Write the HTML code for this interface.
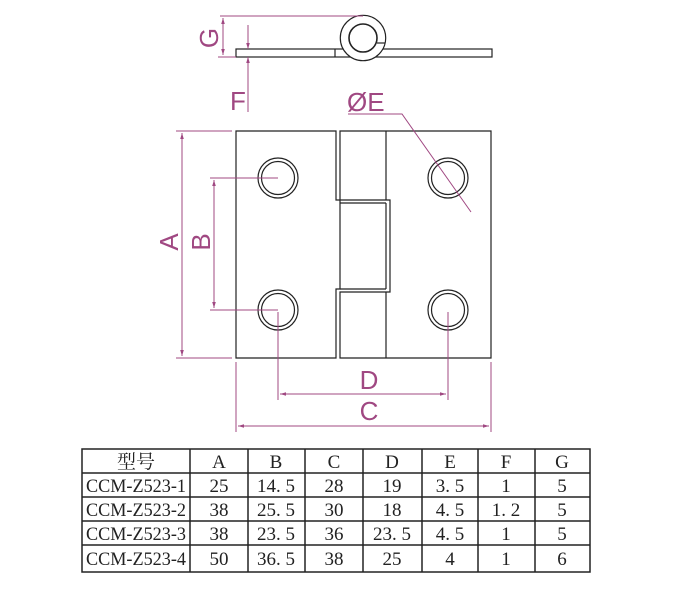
<!DOCTYPE html>
<html><head><meta charset="utf-8"><style>
body{margin:0;background:#fff;width:700px;height:600px;overflow:hidden}
svg{position:absolute;left:0;top:0}
text{font-family:"Liberation Serif","Noto Serif CJK SC",serif}
</style></head><body>
<svg width="700" height="600" viewBox="0 0 700 600">
<defs>
<marker id="ar" viewBox="0 0 10 10" refX="10" refY="5" markerWidth="8" markerHeight="6" orient="auto-start-reverse"><path d="M0,2 L10,5 L0,8z" fill="#a04882"/></marker>
</defs>
<g stroke="#222" fill="none" stroke-width="1.2">
<!-- top view -->
<rect x="236" y="49" width="256" height="8" fill="#fff"/>
<circle cx="363" cy="38" r="22.7" fill="#fff"/>
<circle cx="363" cy="38" r="14" stroke-width="1.6"/>
<line x1="335" y1="49" x2="335" y2="57"/>
<line x1="377" y1="43" x2="385" y2="43"/>
<!-- front -->
<path d="M236,131 H336 V200 H340 V289 H336 V358 H236 Z"/>
<path d="M340,131 V200 H390 V292 H340 V358 H491 V131 Z"/>
<line x1="386" y1="131" x2="386" y2="200"/>
<line x1="386" y1="292" x2="386" y2="358"/>
<line x1="340" y1="203" x2="386" y2="203"/>
<line x1="340" y1="289" x2="386" y2="289"/>
<line x1="386" y1="203" x2="386" y2="289"/>
<circle cx="278" cy="178" r="20"/><circle cx="278" cy="178" r="16.5"/>
<circle cx="278" cy="310" r="20"/><circle cx="278" cy="310" r="16.5"/>
<circle cx="448" cy="178" r="20"/><circle cx="448" cy="178" r="16.5"/>
<circle cx="448" cy="310" r="20"/><circle cx="448" cy="310" r="16.5"/>
</g>
<g stroke="#a04882" fill="none" stroke-width="1">
<line x1="220" y1="16" x2="363" y2="16"/>
<line x1="218" y1="57" x2="236" y2="57"/>
<line x1="223" y1="18" x2="223" y2="55" marker-start="url(#ar)" marker-end="url(#ar)"/>
<line x1="248" y1="25" x2="248" y2="49" marker-end="url(#ar)"/>
<line x1="248" y1="112" x2="248" y2="57" marker-end="url(#ar)"/>
<path d="M348,114 H402 L471,212"/>
<line x1="176" y1="131" x2="232" y2="131"/>
<line x1="176" y1="358" x2="232" y2="358"/>
<line x1="182" y1="133" x2="182" y2="356" marker-start="url(#ar)" marker-end="url(#ar)"/>
<line x1="210" y1="178" x2="278" y2="178"/>
<line x1="210" y1="310" x2="278" y2="310"/>
<line x1="214" y1="180" x2="214" y2="308" marker-start="url(#ar)" marker-end="url(#ar)"/>
<line x1="278" y1="312" x2="278" y2="400"/>
<line x1="448" y1="312" x2="448" y2="400"/>
<line x1="280" y1="394" x2="446" y2="394" marker-start="url(#ar)" marker-end="url(#ar)"/>
<line x1="236" y1="362" x2="236" y2="432"/>
<line x1="491" y1="362" x2="491" y2="432"/>
<line x1="238" y1="426" x2="489" y2="426" marker-start="url(#ar)" marker-end="url(#ar)"/>
</g>
<g fill="#a04882" font-size="26" style="font-family:'Liberation Sans',sans-serif">
<text transform="translate(218,38) rotate(-90)" text-anchor="middle" dy="0" style="font-family:'Liberation Sans',sans-serif">G</text>
<text x="230" y="110" style="font-family:'Liberation Sans',sans-serif">F</text>
<text x="347" y="111" style="font-family:'Liberation Sans',sans-serif">ØE</text>
<text transform="translate(178,242) rotate(-90)" text-anchor="middle" style="font-family:'Liberation Sans',sans-serif">A</text>
<text transform="translate(210,242) rotate(-90)" text-anchor="middle" style="font-family:'Liberation Sans',sans-serif">B</text>
<text x="369" y="389" text-anchor="middle" style="font-family:'Liberation Sans',sans-serif">D</text>
<text x="369" y="420" text-anchor="middle" style="font-family:'Liberation Sans',sans-serif">C</text>
</g>
<!-- table -->
<g stroke="#222" stroke-width="1.5" fill="none">
<rect x="82" y="449" width="508" height="123"/>
<line x1="82" y1="473" x2="590" y2="473"/>
<line x1="82" y1="497" x2="590" y2="497"/>
<line x1="82" y1="521" x2="590" y2="521"/>
<line x1="82" y1="545" x2="590" y2="545"/>
<line x1="190" y1="449" x2="190" y2="572"/>
<line x1="248" y1="449" x2="248" y2="572"/>
<line x1="305" y1="449" x2="305" y2="572"/>
<line x1="363" y1="449" x2="363" y2="572"/>
<line x1="422" y1="449" x2="422" y2="572"/>
<line x1="478" y1="449" x2="478" y2="572"/>
<line x1="535" y1="449" x2="535" y2="572"/>
</g>
<g font-size="19" fill="#222" text-anchor="middle">
<text x="136" y="468">型号</text><text x="219" y="468">A</text><text x="276" y="468">B</text><text x="334" y="468">C</text><text x="392" y="468">D</text><text x="450" y="468">E</text><text x="506" y="468">F</text><text x="562" y="468">G</text>
<text x="136" y="492" textLength="100" lengthAdjust="spacingAndGlyphs">CCM-Z523-1</text><text x="219" y="492">25</text><text x="276" y="492">14. 5</text><text x="334" y="492">28</text><text x="392" y="492">19</text><text x="450" y="492">3. 5</text><text x="506" y="492">1</text><text x="562" y="492">5</text>
<text x="136" y="516" textLength="100" lengthAdjust="spacingAndGlyphs">CCM-Z523-2</text><text x="219" y="516">38</text><text x="276" y="516">25. 5</text><text x="334" y="516">30</text><text x="392" y="516">18</text><text x="450" y="516">4. 5</text><text x="506" y="516">1. 2</text><text x="562" y="516">5</text>
<text x="136" y="540" textLength="100" lengthAdjust="spacingAndGlyphs">CCM-Z523-3</text><text x="219" y="540">38</text><text x="276" y="540">23. 5</text><text x="334" y="540">36</text><text x="392" y="540">23. 5</text><text x="450" y="540">4. 5</text><text x="506" y="540">1</text><text x="562" y="540">5</text>
<text x="136" y="565" textLength="100" lengthAdjust="spacingAndGlyphs">CCM-Z523-4</text><text x="219" y="565">50</text><text x="276" y="565">36. 5</text><text x="334" y="565">38</text><text x="392" y="565">25</text><text x="450" y="565">4</text><text x="506" y="565">1</text><text x="562" y="565">6</text>
</g>
</svg>
</body></html>
